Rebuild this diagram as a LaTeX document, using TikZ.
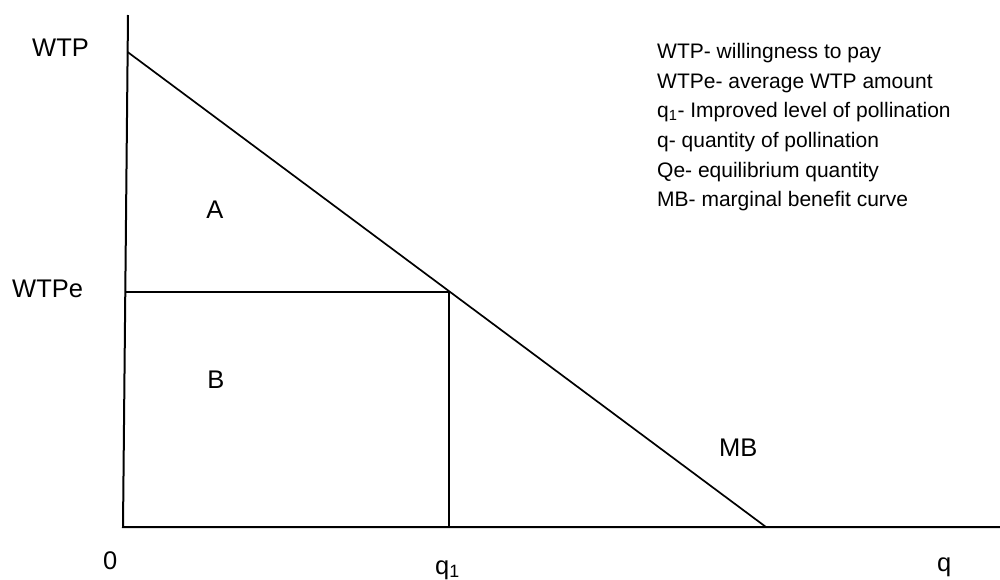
\documentclass[tikz,border=0pt]{standalone}
\usepackage{fontspec}
\setmainfont{Liberation Sans}

\begin{document}
\begin{tikzpicture}[x=1pt, y=-1pt,
  axis/.style = {line width=2pt},
  curve/.style = {line width=1.7pt},
  lbl/.style = {font=\fontsize{25.5}{30}\selectfont, inner sep=0pt, anchor=base west},
  key/.style = {font=\fontsize{21}{25}\selectfont, inner sep=0pt, anchor=base west}]
\useasboundingbox (0,0) rectangle (1000,579);
% axes and curve
\coordinate (ytop)   at (128,15);
\coordinate (origin) at (123,527);
\coordinate (xend)   at (1000,527);
\coordinate (wtp)    at (127.6,52);
\coordinate (mbend)  at (766,527);
\coordinate (eq)     at (449,291.7);
\coordinate (wtpe)   at (125.3,291.7);
\coordinate (qone)   at (449,527);

\draw[axis]  (ytop) -- (origin) -- (xend);
\draw[curve] (wtp) -- (mbend);
\draw[axis]  (wtpe) -- (eq) -- (qone);

\node[lbl] (wtp lbl)  at (32,56)   {WTP};
\node[lbl] (wtpe lbl) at (12,297)  {WTPe};
\node[lbl, anchor=base] (area a) at (215,218) {A};
\node[lbl, anchor=base] (area b) at (216,388) {B};
\node[lbl] (mb lbl)   at (719,456) {MB};
\node[lbl] (zero)     at (103,569) {0};
\node[lbl] (q1 lbl)   at (435,574) {q\textsubscript{1}};
\node[lbl] (q lbl)    at (937,571) {q};

% legend
\foreach \txt [count=\i from 0] in {WTP- willingness to pay, WTPe- average WTP amount,
    q\textsubscript{1}- Improved level of pollination, q- quantity of pollination,
    Qe- equilibrium quantity, MB- marginal benefit curve}
  \node[key] (key\i) at (657,58.3+29.7*\i) {\txt};
\end{tikzpicture}
\end{document}
